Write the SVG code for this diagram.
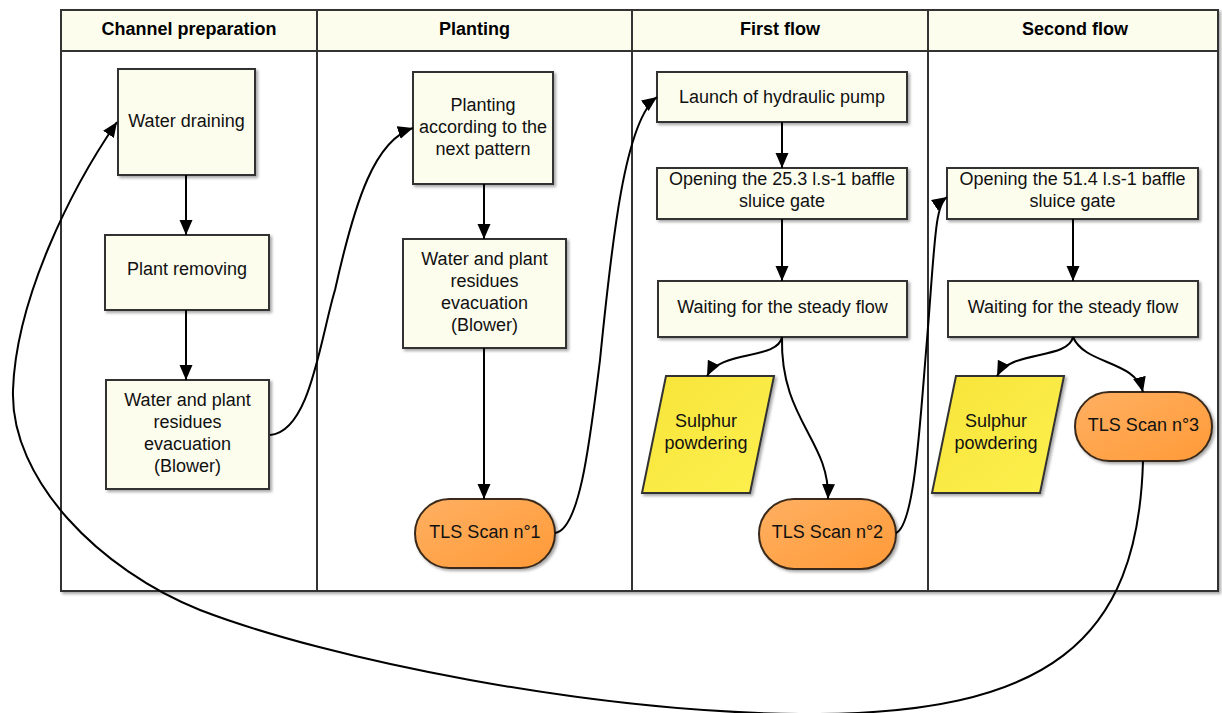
<svg xmlns="http://www.w3.org/2000/svg" width="1222" height="713" viewBox="0 0 1222 713">
<defs>
<filter id="sh" x="-10%" y="-10%" width="130%" height="130%">
<feDropShadow dx="2" dy="2" stdDeviation="1.5" flood-color="#000" flood-opacity="0.35"/>
</filter>
<linearGradient id="og" x1="0" y1="0" x2="1" y2="1">
<stop offset="0" stop-color="#ffb062"/>
<stop offset="1" stop-color="#ff9a38"/>
</linearGradient>
<linearGradient id="yg" x1="0" y1="0" x2="1" y2="1">
<stop offset="0" stop-color="#f7e43a"/>
<stop offset="1" stop-color="#fdf04e"/>
</linearGradient>
<marker id="ah" markerUnits="userSpaceOnUse" markerWidth="16" markerHeight="14" refX="15" refY="6.5" orient="auto">
<path d="M0,0 L15,6.5 L0,13 z" fill="#000"/>
</marker>
<style>
.box{fill:#fdfdee;stroke:#333;stroke-width:2;filter:url(#sh)}
.tls{fill:url(#og);stroke:#3a2a1a;stroke-width:2;filter:url(#sh)}
.sul{fill:url(#yg);stroke:#333;stroke-width:2;filter:url(#sh)}
text{font-family:"Liberation Sans",Arial,sans-serif;font-size:18px;fill:#111;text-anchor:middle}
.hd{font-weight:bold;fill:#000}
.ln{fill:none;stroke:#333;stroke-width:2}
.c{fill:none;stroke:#000;stroke-width:2;marker-end:url(#ah)}
</style>
</defs>
<g id="pool">
<rect x="61" y="10" width="1157" height="581" fill="#fff" stroke="#333" stroke-width="2" filter="url(#sh)"/>
<rect x="61" y="10" width="1157" height="41" fill="#fdfdee" stroke="#333" stroke-width="2"/>
<line class="ln" x1="317" y1="10" x2="317" y2="591"/>
<line class="ln" x1="632" y1="10" x2="632" y2="591"/>
<line class="ln" x1="928" y1="10" x2="928" y2="591"/>
<text class="hd" x="189" y="35">Channel preparation</text>
<text class="hd" x="474.5" y="35">Planting</text>
<text class="hd" x="780" y="35">First flow</text>
<text class="hd" x="1075" y="35">Second flow</text>
</g>
<g id="n1"><rect class="box" x="118" y="69" width="137" height="106"/><text x="186.5" y="127">Water draining</text></g>
<g id="n2"><rect class="box" x="105" y="235" width="164" height="75"/><text x="187" y="275">Plant removing</text></g>
<g id="n3"><rect class="box" x="106" y="380" width="163" height="109"/><text x="187.5" y="406">Water and plant</text><text x="187.5" y="428">residues</text><text x="187.5" y="450">evacuation</text><text x="187.5" y="472">(Blower)</text></g>
<g id="n4"><rect class="box" x="413" y="72" width="140" height="112"/><text x="483" y="111">Planting</text><text x="483" y="133">according to the</text><text x="483" y="155">next pattern</text></g>
<g id="n5"><rect class="box" x="403" y="239" width="163" height="109"/><text x="484.5" y="265">Water and plant</text><text x="484.5" y="287">residues</text><text x="484.5" y="309">evacuation</text><text x="484.5" y="331">(Blower)</text></g>
<g id="n6"><rect class="tls" x="415" y="499" width="140" height="69" rx="34.5"/><text x="485" y="538">TLS Scan n°1</text></g>
<g id="n7"><rect class="box" x="657" y="72" width="250" height="50"/><text x="782" y="103">Launch of hydraulic pump</text></g>
<g id="n8"><rect class="box" x="657" y="168" width="250" height="51"/><text x="782" y="185">Opening the 25.3 l.s-1 baffle</text><text x="782" y="207">sluice gate</text></g>
<g id="n9"><rect class="box" x="658" y="281" width="249" height="56"/><text x="782.5" y="313">Waiting for the steady flow</text></g>
<g id="n10"><polygon class="sul" points="666,376 774,376 750,493 642,493"/><text x="706" y="427">Sulphur</text><text x="706" y="449">powdering</text></g>
<g id="n11"><rect class="tls" x="759" y="499" width="137" height="70" rx="35"/><text x="827.5" y="538">TLS Scan n°2</text></g>
<g id="n12"><rect class="box" x="947" y="168" width="251" height="51"/><text x="1072.5" y="185">Opening the 51.4 l.s-1 baffle</text><text x="1072.5" y="207">sluice gate</text></g>
<g id="n13"><rect class="box" x="948" y="281" width="250" height="56"/><text x="1073" y="313">Waiting for the steady flow</text></g>
<g id="n14"><polygon class="sul" points="956,376 1064,376 1040,493 932,493"/><text x="996" y="427">Sulphur</text><text x="996" y="449">powdering</text></g>
<g id="n15"><rect class="tls" x="1075" y="392" width="137" height="69" rx="34.5"/><text x="1143.5" y="431">TLS Scan n°3</text></g>
<g id="connectors">
<path class="c" d="M186,175 L186,235"/>
<path class="c" d="M186,310 L186,380"/>
<path class="c" d="M270,435 C310,432 320,340 335,290 C355,200 375,140 413,128"/>
<path class="c" d="M484,184 L484,239"/>
<path class="c" d="M484,348 L484,499"/>
<path class="c" d="M555,533 C580,530 590,440 600,360 C612,240 625,120 657,97"/>
<path class="c" d="M782,122 L782,168"/>
<path class="c" d="M782,219 L782,281"/>
<path class="c" d="M782,337 C778,360 720,350 707,376"/>
<path class="c" d="M782,337 C780,420 830,440 828,499"/>
<path class="c" d="M896,533 C915,525 920,420 927,340 C935,240 935,205 947,197"/>
<path class="c" d="M1073,219 L1073,281"/>
<path class="c" d="M1073,337 C1068,360 1010,350 997,376"/>
<path class="c" d="M1073,337 C1085,365 1135,360 1143,392"/>
<path class="c" d="M1143,461 C1138,640 1050,716 800,714 C590,712 330,660 200,610 C100,570 10,480 13,390 C16,300 70,190 117,122"/>
</g>
</svg>
